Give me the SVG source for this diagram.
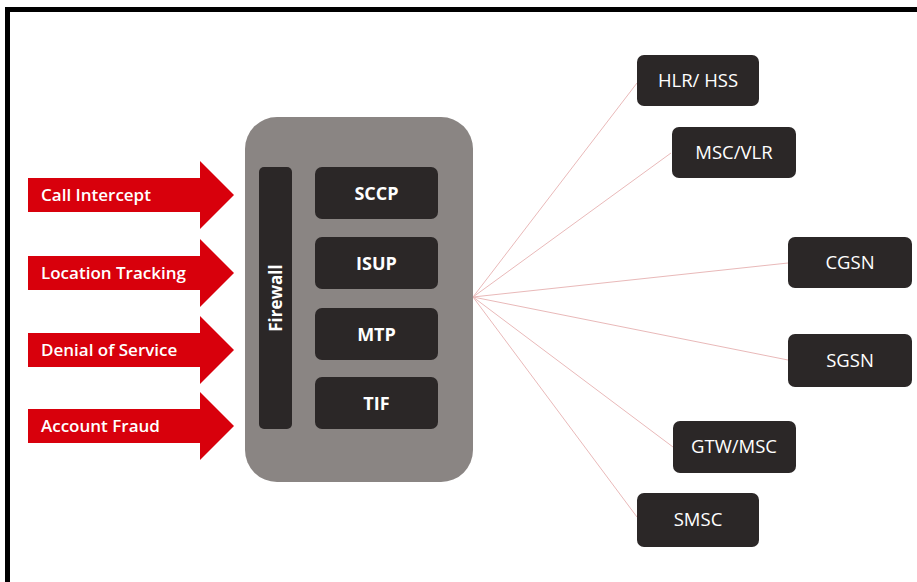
<svg xmlns="http://www.w3.org/2000/svg" width="917" height="582" viewBox="0 0 917 582">
<defs>
<style>
.arrow{fill:#d8000c}
.alabel{font-family:"Open Sans","Noto Sans",sans-serif;font-size:17px;font-weight:600;fill:#ffffff}
.dark{fill:#2b2727}
.proto{font-family:"Open Sans","Noto Sans",sans-serif;font-size:18px;font-weight:700;fill:#ffffff;text-anchor:middle}
.fw{font-family:"Open Sans","Noto Sans",sans-serif;font-size:17px;font-weight:700;fill:#ffffff;text-anchor:middle}
.node{font-family:"Open Sans","Noto Sans",sans-serif;font-size:18.5px;font-weight:400;fill:#ffffff;text-anchor:middle}
.conn{stroke:#e9b9b9;stroke-width:1;fill:none}
</style>
<path id="arr" d="M0,-17 H172 V-34 L206,0 L172,34 V17 H0 Z"/>
</defs>
<rect width="917" height="582" fill="#ffffff"/>
<rect x="5" y="7" width="912" height="5" fill="#000000"/>
<rect x="5" y="7" width="5" height="575" fill="#000000"/>

<g id="connectors">
<line class="conn" x1="473" y1="297" x2="637" y2="83"/>
<line class="conn" x1="473" y1="297" x2="671" y2="153"/>
<line class="conn" x1="473" y1="297" x2="788" y2="263"/>
<line class="conn" x1="473" y1="297" x2="788" y2="360"/>
<line class="conn" x1="473" y1="297" x2="673" y2="447"/>
<line class="conn" x1="473" y1="297" x2="637" y2="517"/>
</g>

<g id="call-intercept">
<use href="#arr" class="arrow" x="28" y="195"/>
<text class="alabel" x="41" y="201">Call Intercept</text>
</g>
<g id="location-tracking">
<use href="#arr" class="arrow" x="28" y="273"/>
<text class="alabel" x="41" y="279">Location Tracking</text>
</g>
<g id="denial-of-service">
<use href="#arr" class="arrow" x="28" y="350"/>
<text class="alabel" x="41" y="356">Denial of Service</text>
</g>
<g id="account-fraud">
<use href="#arr" class="arrow" x="28" y="426"/>
<text class="alabel" x="41" y="432">Account Fraud</text>
</g>

<g id="gateway">
<rect x="245" y="117" width="228" height="365" rx="32" fill="#8a8583"/>
</g>
<g id="firewall">
<rect class="dark" x="259" y="167" width="33" height="262" rx="5"/>
<text class="fw" transform="translate(282,298) rotate(-90)" x="0" y="0">Firewall</text>
</g>
<g id="sccp">
<rect class="dark" x="315" y="167" width="123" height="52" rx="7"/>
<text class="proto" x="376.5" y="199.5">SCCP</text>
</g>
<g id="isup">
<rect class="dark" x="315" y="237" width="123" height="52" rx="7"/>
<text class="proto" x="376.5" y="269.5">ISUP</text>
</g>
<g id="mtp">
<rect class="dark" x="315" y="308" width="123" height="52" rx="7"/>
<text class="proto" x="376.5" y="340.5">MTP</text>
</g>
<g id="tif">
<rect class="dark" x="315" y="377" width="123" height="52" rx="7"/>
<text class="proto" x="376.5" y="409.5">TIF</text>
</g>

<g id="hlr-hss">
<rect class="dark" x="637" y="55" width="122" height="51" rx="7"/>
<text class="node" x="698" y="87">HLR/ HSS</text>
</g>
<g id="msc-vlr">
<rect class="dark" x="672" y="127" width="124" height="51" rx="7"/>
<text class="node" x="734" y="159">MSC/VLR</text>
</g>
<g id="cgsn">
<rect class="dark" x="788" y="237" width="124" height="51" rx="7"/>
<text class="node" x="850" y="269">CGSN</text>
</g>
<g id="sgsn">
<rect class="dark" x="788" y="334" width="124" height="53" rx="7"/>
<text class="node" x="850" y="367">SGSN</text>
</g>
<g id="gtw-msc">
<rect class="dark" x="673" y="421" width="123" height="52" rx="7"/>
<text class="node" x="734" y="453">GTW/MSC</text>
</g>
<g id="smsc">
<rect class="dark" x="637" y="493" width="122" height="54" rx="7"/>
<text class="node" x="698" y="526">SMSC</text>
</g>
</svg>
